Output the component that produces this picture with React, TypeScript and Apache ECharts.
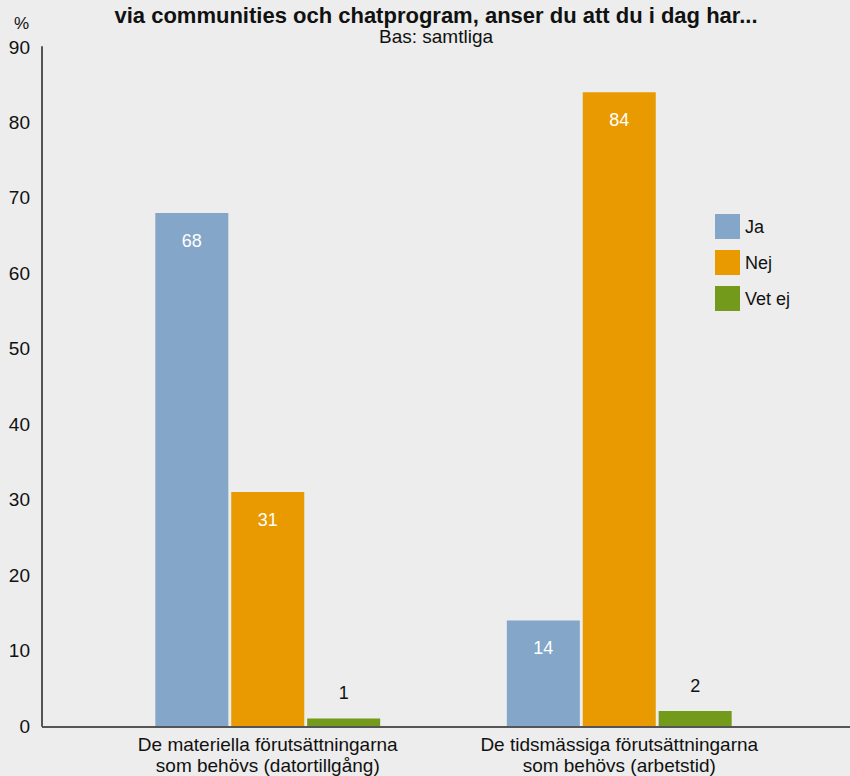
import React, { useEffect, useRef } from "react";
import * as echarts from "echarts";

const categories = [
  "De materiella förutsättningarna\nsom behövs (datortillgång)",
  "De tidsmässiga förutsättningarna\nsom behövs (arbetstid)",
];
const jaValues = [68, 14];
const nejValues = [31, 84];
const vetEjValues = [1, 2];
const seriesNames = ["Ja", "Nej", "Vet ej"];
const colors = ["#84A6C8", "#E89A00", "#739A1A"];

const FONT = "Liberation Sans, Arial, sans-serif";

export default function App() {
  const ref = useRef<HTMLDivElement>(null);
  useEffect(() => {
    if (!ref.current) return;
    const chart = echarts.init(ref.current, undefined, { renderer: "svg" });
    const insideLabel = {
      show: true,
      position: "insideTop",
      distance: 19,
      color: "#ffffff",
      fontSize: 18,
      fontFamily: FONT,
    };
    const topLabel = {
      show: true,
      position: "top",
      distance: 16,
      color: "#111111",
      fontSize: 18,
      fontFamily: FONT,
    };
    chart.setOption({
      animation: false,
      backgroundColor: "#ECEDEC",
      textStyle: { fontFamily: FONT },
      title: [
        {
          text: "via communities och chatprogram, anser du att du i dag har...",
          subtext: "Bas: samtliga",
          left: 431,
          textAlign: "center",
          top: -1,
          itemGap: 1,
          textStyle: { fontSize: 22, fontWeight: "bold", color: "#111", fontFamily: FONT },
          subtextStyle: { fontSize: 19, color: "#111", fontFamily: FONT },
        },
        {
          text: "%",
          left: 9,
          top: 10,
          textStyle: { fontSize: 17, fontWeight: "normal", color: "#111", fontFamily: FONT },
        },
      ],
      legend: {
        orient: "vertical",
        left: 710,
        top: 209,
        itemWidth: 25,
        itemHeight: 25,
        itemGap: 11,
        icon: "rect",
        data: seriesNames,
        textStyle: { fontSize: 18, color: "#111", fontFamily: FONT },
      },
      grid: { left: 92, right: 55, top: 47, bottom: 49, containLabel: false },
      xAxis: {
        type: "category",
        data: categories,
        axisLine: { show: false },
        axisTick: { show: false },
        axisLabel: {
          interval: 0,
          hideOverlap: false,
          fontSize: 19,
          color: "#111",
          margin: 8,
          lineHeight: 21,
          fontFamily: FONT,
        },
      },
      yAxis: {
        type: "value",
        min: 0,
        max: 90,
        interval: 10,
        offset: 50,
        axisLine: { show: true, lineStyle: { color: "#555", width: 2 } },
        axisTick: { show: false },
        splitLine: { show: false },
        axisLabel: { fontSize: 19, color: "#111", margin: 12, fontFamily: FONT },
      },
      graphic: [
        {
          type: "line",
          shape: { x1: 42, y1: 727, x2: 850, y2: 727 },
          style: { stroke: "#555", lineWidth: 2 },
          z: 10,
        },
      ],
      series: [
        {
          name: seriesNames[0],
          type: "bar",
          data: jaValues,
          barWidth: 73,
          barGap: "4%",
          itemStyle: { color: colors[0] },
          label: insideLabel,
        },
        {
          name: seriesNames[1],
          type: "bar",
          data: nejValues,
          barWidth: 73,
          barGap: "4%",
          itemStyle: { color: colors[1] },
          label: insideLabel,
        },
        {
          name: seriesNames[2],
          type: "bar",
          data: vetEjValues,
          barWidth: 73,
          barGap: "4%",
          itemStyle: { color: colors[2] },
          label: topLabel,
        },
      ],
    });
    return () => chart.dispose();
  }, []);
  return <div ref={ref} style={{ width: 850, height: 776, position: "fixed", left: 0, top: 0 }} />;
}
